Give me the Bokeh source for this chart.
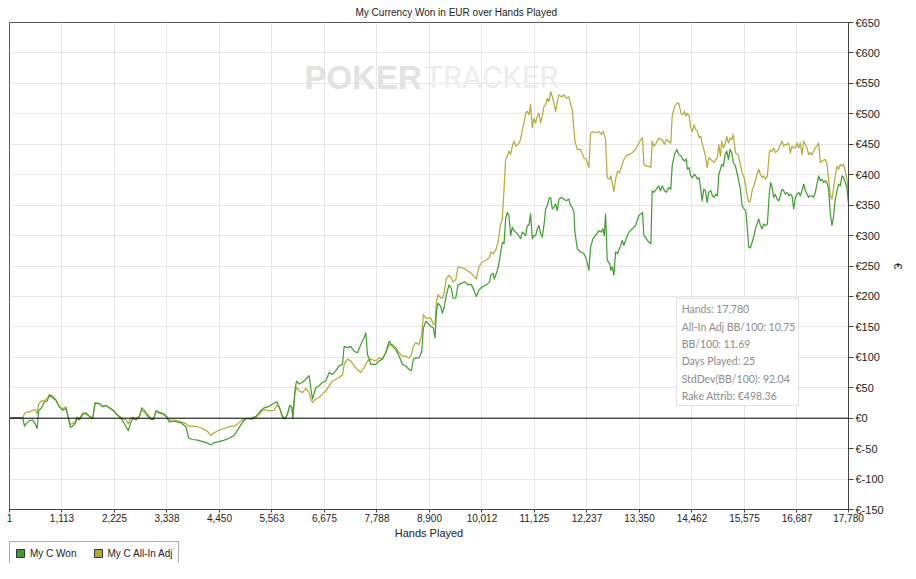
from bokeh.plotting import figure
from bokeh.layouts import column
from bokeh.models import (FixedTicker, NumeralTickFormatter, PrintfTickFormatter, Span,
                          Legend, LegendItem, Label, BoxAnnotation, Range1d, ColumnDataSource)
from bokeh.embed import file_html
from bokeh.resources import INLINE

# ---------------- data ----------------
hands_a = [1,176,282,318,353,423,494,543,586,621,
           670,741,797,847,917,988,1058,1129,1200,1249,
           1291,1341,1390,1433,1482,1553,1623,1694,1764,1814,
           1905,1976,2047,2117,2188,2258,2329,2399,2470,2519,
           2562,2611,2682,2752,2802,2858,2929,2999,3056,3105,
           3176,3267,3338,3387,3493,3634,3740,3797,3882,3987,
           4093,4199,4269,4340,4446,4552,4658,4764,4834,4919,
           5010,5116,5222,5328,5399,5504,5610,5667,5716]
won_a = [0,1,0,-13,-9,-4,-3,-9,-17,13,
         16,27,28,37.5,34,29,18.5,13,16,-0.5,
         -15,-13,-9,-0.5,-3,6.5,7.6,3,-0.5,25,
         24,18.5,21,17,13,7.6,2,-4,-14,-20.6,
         -9,-0.5,-3,2,17,13,3,-2,-2,12,
         8.7,6.5,1,-6,-5,-7.6,-14,-33,-35,-36,
         -38.5,-41,-44,-40,-38.5,-36,-33,-28,-19.5,-9,
         -0.5,-0.5,3,13,17,19.5,25,27,18.5]
allin_a = [0,1,0,7.6,10,10,13,14,7.6,24,
           28,29,32,39,36,30,18.5,16,18.5,1,
           -10,-9,-6,2,-0.5,8.7,8.7,3,-0.5,25,
           24,19.5,21,17,14,7.6,3,-0.5,-3,-9,
           -0.5,2,-0.5,3,13,10,6.5,-0.5,-0.5,12,
           10,7.6,3,-3,-3,-6,-9,-13,-13,-14,
           -17,-22,-28,-24,-19.5,-17,-14,-13,-9,-4,
           -0.5,-2,1,10,14,12,13,21,18.5]

hands_b = [5787,5843,5892,5942,5984,6005,6048,6083,6139,6210,
           6280,6351,6386,6422,6492,6563,6633,6704,6774,6845,
           6916,6986,7057,7092,7162,7233,7304,7374,7445,7515,
           7551,7586,7657,7762,7833,7904,7974,8045,8115,8186,
           8256,8327,8398,8468,8517,8560,8609,8680,8736,8772,
           8821,8927,8983,9018,9047,9082,9139,9174,9209,9258,
           9315,9364,9400,9456,9506,9576,9647,9717,9788,9858,
           9894,9950,10020,10105,10176]
won_b = [1.6,-1,7,21,18,0.5,45,61,56,59,
         64,70,49,31.5,50.5,53,59,61,75,72,
         78,86,88.5,118,116,118,110,107.5,121,132,
         140,105,88.5,88.5,94,97,107.5,126.5,118,113,
         102,88.5,86,80,78,97,99,99,110,148,
         159,151,148,132,175,189,183.5,172.7,181,202.5,
         219,213,197,197,219,221.5,224,219,220,207,
         200,210.7,216,219,224]
allin_b = [3,0,7,21,18,1.6,40,50.5,45,42,
           49,42,31.5,26,31.5,34,39.6,45,53,61,
           64,67,71,88.5,97,94,86,80,75,83,
           88.5,94,97,94,99,98,107.5,121,121,116,
           107.5,102,102,99,104,118,124,121,137,170,
           164.5,164.5,154,154,192,202.5,198,197,205,229.7,
           235,230,224,227,248.7,247,246,241.6,238,232,
           228.6,248.7,257,259.5,265]

hands_c = [10197,10247,10275,10317,10360,10402,10444,10480,10515,10550,
           10585,10621,10656,10691,10727,10783,10832,10868,10903,10938,
           10974,11009,11044,11079,11115,11150,11185,11221,11256,11291,
           11326,11362,11397,11432,11468,11503,11538,11573,11609,11644,
           11700,11750,11799,11856,11891,11926,11962,11983,12032,12103,
           12173,12223,12279,12314,12364,12420,12491,12540,12575,12604,
           12632,12667,12717,12745,12773,12808,12844,12886,12928,12985,
           13020,13069,13126,13196,13267,13338,13380,13415,13444,13493,
           13549,13592,13620,13655,13705,13761,13796,13832,13881,13916,
           13973,14015,14043,14093,14142]
won_c = [235,238,228.6,238,248.7,267.7,289,286.7,327,338,
         333,300,314,308,305.7,301,295,305.7,303,300,
         316.6,316.6,335.6,295,300,300,311,316.6,303,297.6,
         316.6,343.7,349,360,362.7,343.7,346.4,352,341,360,
         362.7,360,357,360,349,346.4,338,305.7,278.6,273,
         270.4,262,243,281,295,300,308,305.7,311,300,
         335.6,259.6,254,243,248.7,235,273,270.4,278.6,292,
         284,295,305.7,311,316.6,333,335.6,338,300,295,
         289,286.7,373.6,371,376,381.7,373.6,381.7,373.6,371,
         379,376,414,433,441.5]
allin_c = [273,270,273,278.6,292,316.6,327,376,425,430.6,
           438.7,433,447,455,447,449.6,457.7,474,485,501,
           504,498.5,515,476.8,493,485,496,501,485,496,
           512,515,525.6,520,536.5,528,517.5,504,520,531,
           528,531,525.6,528,515,506.6,474,455,441.5,441.5,
           428,425,411.6,468.6,471,468.6,471,466,471,466,
           457.7,395,392.6,398,387,372,392.6,406,403.4,417,
           425,430.6,433,436,441.5,452,457.7,460.5,417,414,
           414,411.6,455,447,452,460.5,457.7,457.7,449.6,457.7,
           455,452,495.8,512,517.5]

hands_d = [14184,14233,14269,14304,14339,14367,14403,14438,14473,14509,
           14544,14579,14614,14650,14678,14713,14749,14784,14819,14861,
           14897,14932,14967,15003,15031,15066,15094,15130,15165,15200,
           15236,15271,15306,15341,15384,15440,15490,15525,15567,15603,
           15631,15666,15701,15737,15772,15807,15842,15878,15913,15948,
           15984,16019,16061]
won_d = [433,430.6,425,422.5,426,409,411.6,398,395,400.7,
         398,392.6,395,376,357,376,373.6,354.6,371,373.6,
         365.4,362.7,368,365.4,400.7,409,417,414,433,438.7,
         425,441.5,436,419.7,414,395,376,349,343.7,341,
         316.6,281,279.6,289,297.6,311,319,327.4,316.6,311,
         319,316.6,319]
allin_d = [517.5,500,498.5,504,496,501,496,476.8,471,482,
           474,471,460.5,463,452,441.5,430.6,411.6,428,425,
           422.5,419.7,425,428,449.6,430.6,455,444,449.6,463,
           452,460.5,457.7,466,436,433,417,403.4,395,381.7,
           365.4,354.6,357,373.6,381.7,390,400.7,409,400.7,395,
           398,392.6,398]

hands_e = [16103,16131,16160,16195,16230,16265,16301,16336,16371,16407,
           16442,16477,16512,16548,16583,16618,16654,16689,16724,16759,
           16795,16830,16865,16901,16936,16971,17006,17042,17077,17112,
           17148,17183,17218,17253,17289,17324,17359,17395,17430,17465,
           17500,17536,17571,17606,17642,17677,17712,17747,17780]
won_e = [371,387,379,362.7,368,360,357,365.4,376,373.6,
         368,371,365.4,368,365.4,343.7,362.7,368,371,365.4,
         373.6,384.4,373.6,368,362.7,365.4,365.4,362.7,371,384.4,
         398,390,392.6,387,390,387,376,335.6,316.6,332.9,
         360,373.6,384.4,381.7,398,395,387,379,352]
allin_e = [437,440,438.7,444,436,438.7,441.5,449.6,455,447,
           449.6,449.6,452,436,447,444,444,452,444,452,
           433,455,449.6,444,433,436,433,438.7,444,447,
           452,419.7,422.5,424,425,417,392.6,365.4,360,379,
           398,414,409,417,414,417,406,392.6,371]

x_ticks = [1, 1113, 2225, 3338, 4450, 5563, 6675, 7788, 8900, 10012,
           11125, 12237, 13350, 14462, 15575, 16687, 17780]
y_ticks = [-150, -100, -50, 0, 50, 100, 150, 200, 250, 300, 350, 400, 450, 500, 550, 600, 650]

series_names = ["My C Won", "My C All-In Adj"]
stats_lines = ["Hands: 17,780", "All-In Adj BB/100: 10.75", "BB/100: 11.69",
               "Days Played: 25", "StdDev(BB/100): 92.04", "Rake Attrib: €498.36"]

hands = hands_a + hands_b + hands_c + hands_d + hands_e
won = won_a + won_b + won_c + won_d + won_e
allin = allin_a + allin_b + allin_c + allin_d + allin_e
n = min(len(hands), len(won), len(allin))
src = ColumnDataSource(dict(x=hands[:n], won=won[:n], allin=allin[:n]))

# ---------------- styles ----------------
GREEN = "#3e9d2e"
OLIVE = "#b3a935"
FONT = "Liberation Sans"
TXT = "#222222"
W = 906

p = figure(width=W, height=541, output_backend="svg", toolbar_location=None,
           x_range=Range1d(1, 17780), y_range=Range1d(-150, 650),
           y_axis_location="right",
           min_border_left=9, min_border_right=51, min_border_top=21, min_border_bottom=0,
           title="My Currency Won in EUR over Hands Played")
p.background_fill_color = "white"
p.border_fill_color = "white"
p.outline_line_color = "#555555"
p.outline_line_width = 1

p.title.align = "left"
p.title.offset = 346
p.title.text_font = FONT
p.title.text_font_size = "10px"
p.title.text_font_style = "normal"
p.title.text_color = TXT
p.title.standoff = 9

# axes
p.xaxis.ticker = FixedTicker(ticks=x_ticks)
p.xaxis.formatter = NumeralTickFormatter(format="0,0")
p.xaxis.axis_label = "Hands Played"
p.yaxis.ticker = FixedTicker(ticks=y_ticks)
p.yaxis.formatter = PrintfTickFormatter(format="€%d")
p.yaxis.axis_label = "€"
for ax in (p.xaxis, p.yaxis):
    ax.axis_line_color = "#444444"
    ax.major_tick_line_color = "#444444"
    ax.major_tick_in = 0
    ax.minor_tick_line_color = None
    ax.major_label_text_font = FONT
    ax.major_label_text_color = TXT
    ax.axis_label_text_font = FONT
    ax.axis_label_text_font_size = "11px"
    ax.axis_label_text_font_style = "normal"
    ax.axis_label_text_color = TXT
p.xaxis.major_tick_out = 3
p.yaxis.major_tick_out = 5
p.xaxis.major_label_text_font_size = "10px"
p.yaxis.major_label_text_font_size = "11px"
p.xaxis.major_label_standoff = 1
p.xaxis.axis_label_standoff = 2
p.yaxis.major_label_standoff = 2
p.yaxis.axis_label_standoff = 5

p.xgrid.grid_line_color = "#e6e6e6"
p.ygrid.grid_line_color = "#e6e6e6"

# watermark
p.add_layout(Label(x=6250, y=559, text="POKER", text_font=FONT, text_font_size="33px",
                   text_font_style="bold", text_color="#e2e2e2", text_baseline="alphabetic",
                   level="underlay"))
p.add_layout(Label(x=8795, y=559, text="TRACKER", text_font="Roboto",
                   text_font_size="31px", text_color="#ededed", text_baseline="alphabetic",
                   level="underlay"))

# zero line
p.add_layout(Span(location=0, dimension="width", line_color="black", line_width=1))

# series
p.line("x", "allin", source=src, line_color=OLIVE, line_width=1.2, line_join="round")
p.line("x", "won", source=src, line_color=GREEN, line_width=1.2, line_join="round")

# stats box
p.add_layout(BoxAnnotation(left=14138, right=16720, top=197, bottom=21,
                           fill_color="white", fill_alpha=1, line_color="#9a9a9a", line_width=1))
stat_y = [179, 150.5, 122, 93.5, 65, 36.5]
for txt, yy in zip(stats_lines, stat_y):
    p.add_layout(Label(x=14244, y=yy, text=txt, text_font="Lato", text_font_size="10.5px",
                       text_color="#8c8c8c", text_baseline="middle"))

# legend strip (separate small figure under the chart)
lp = figure(width=W, height=22, output_backend="svg", toolbar_location=None,
            x_axis_type=None, y_axis_type=None, x_range=Range1d(0, 1), y_range=Range1d(0, 1),
            min_border_left=9, min_border_right=0, min_border_top=0, min_border_bottom=0)
lp.outline_line_color = None
lp.grid.visible = False
lp.background_fill_color = "white"
lp.border_fill_color = "white"
lg_g = lp.quad(left=[5], right=[6], top=[6], bottom=[5], fill_color=GREEN, line_color="#333333")
lg_o = lp.quad(left=[5], right=[6], top=[6], bottom=[5], fill_color=OLIVE, line_color="#333333")
legend = Legend(items=[LegendItem(label=series_names[0], renderers=[lg_g]),
                       LegendItem(label=series_names[1], renderers=[lg_o])],
                orientation="horizontal", location="top_left",
                border_line_color="#555555", border_line_width=1,
                background_fill_color="white", background_fill_alpha=1,
                label_text_font=FONT, label_text_font_size="10px", label_text_color=TXT,
                glyph_width=10, glyph_height=10, label_height=12,
                padding=5, spacing=16, label_standoff=5, margin=0)
lp.add_layout(legend, "center")

layout = column(p, lp, spacing=0)
open("out.html", "w").write(file_html(layout, INLINE))
